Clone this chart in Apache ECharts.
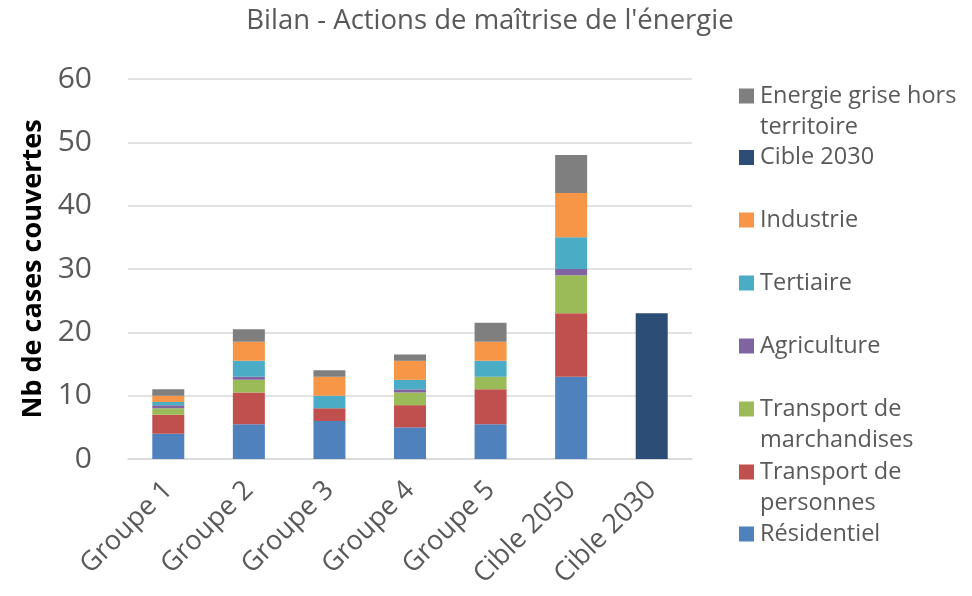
<!DOCTYPE html>
<html><head><meta charset="utf-8">
<script src="https://cdn.jsdelivr.net/npm/echarts@6/dist/echarts.min.js"></script>
<style>html,body{margin:0;padding:0;background:#fff}#c{width:972px;height:596px}</style>
</head><body><div id="c"></div>
<script>
const categories = ['Groupe 1','Groupe 2','Groupe 3','Groupe 4','Groupe 5','Cible 2050','Cible 2030'];
const residentiel = [4, 5.5, 6, 5, 5.5, 13, null];
const transportPersonnes = [3, 5, 2, 3.5, 5.5, 10, null];
const transportMarchandises = [1, 2, 0, 2, 2, 6, null];
const agriculture = [0.5, 0.5, 0, 0.5, 0, 1, null];
const tertiaire = [0.5, 2.5, 2, 1.5, 2.5, 5, null];
const industrie = [1, 3, 3, 3, 3, 7, null];
const cible2030 = [null, null, null, null, null, null, 23];
const energieGrise = [1, 2, 1, 1, 3, 6, null];

const seriesDefs = [
  ['Résidentiel', residentiel, '#4F81BD'],
  ['Transport de personnes', transportPersonnes, '#C0504D'],
  ['Transport de marchandises', transportMarchandises, '#9BBB59'],
  ['Agriculture', agriculture, '#8064A2'],
  ['Tertiaire', tertiaire, '#4BACC6'],
  ['Industrie', industrie, '#F79646'],
  ['Cible 2030', cible2030, '#2C4D75'],
  ['Energie grise hors territoire', energieGrise, '#7F7F7F']
];
const legendLabels = {
  'Energie grise hors territoire': ['Energie grise hors', 'territoire'],
  'Transport de marchandises': ['Transport de', 'marchandises'],
  'Transport de personnes': ['Transport de', 'personnes']
};
const legendOrder = ['Energie grise hors territoire','Cible 2030','Industrie','Tertiaire','Agriculture','Transport de marchandises','Transport de personnes','Résidentiel'];
const legendCenters = [96, 157.5, 220, 283, 346, 409, 472, 534];

const FONT = 'Open Sans';
const LH = 31;
const legends = legendOrder.map((n, i) => {
  const two = !!legendLabels[n];
  const H = two ? 3 * LH : LH;
  return {
    data: [n], left: 739, top: legendCenters[i] - H / 2, orient: 'vertical',
    padding: 0, itemWidth: 15, itemHeight: 15, itemGap: 0, icon: 'rect',
    selectedMode: false,
    formatter: nm => legendLabels[nm] ? '\u00a0\n' + legendLabels[nm].join('\n') : nm,
    textStyle: { fontFamily: FONT, fontSize: 23.5, color: '#595959', lineHeight: LH, padding: [0, 0, 0, 1] }
  };
});

const chart = echarts.init(document.getElementById('c'), null, {renderer: 'canvas'});
chart.setOption({
  animation: false,
  textStyle: { fontFamily: FONT },
  title: { text: "Bilan - Actions de maîtrise de l'énergie", left: 485, top: 2, textAlign: 'center',
    textStyle: { fontFamily: FONT, fontSize: 27.5, fontWeight: 'normal', color: '#595959' } },
  legend: legends,
  grid: { left: 128, right: 280, top: 79, bottom: 137 },
  xAxis: {
    type: 'category', data: categories,
    axisLine: { lineStyle: { color: '#D9D9D9', width: 1.5 } },
    axisTick: { show: false },
    axisLabel: { rotate: 45, fontSize: 27, color: '#595959', fontFamily: FONT, margin: 27, interval: 0 }
  },
  yAxis: {
    type: 'value', min: 0, max: 60, interval: 10,
    name: 'Nb de cases couvertes', nameLocation: 'middle', nameGap: 79, nameRotate: 90,
    nameTextStyle: { fontFamily: FONT, fontSize: 27, fontWeight: 'bold', color: '#000' },
    axisLine: { show: false }, axisTick: { show: false },
    axisLabel: { fontSize: 30, color: '#595959', fontFamily: FONT, margin: 36 },
    splitLine: { lineStyle: { color: '#D9D9D9', width: 1.5 } }
  },
  series: seriesDefs.map(([name, data, color]) => ({
    name, type: 'bar', stack: 'total', data, barWidth: 32,
    itemStyle: { color }
  }))
});
</script></body></html>
